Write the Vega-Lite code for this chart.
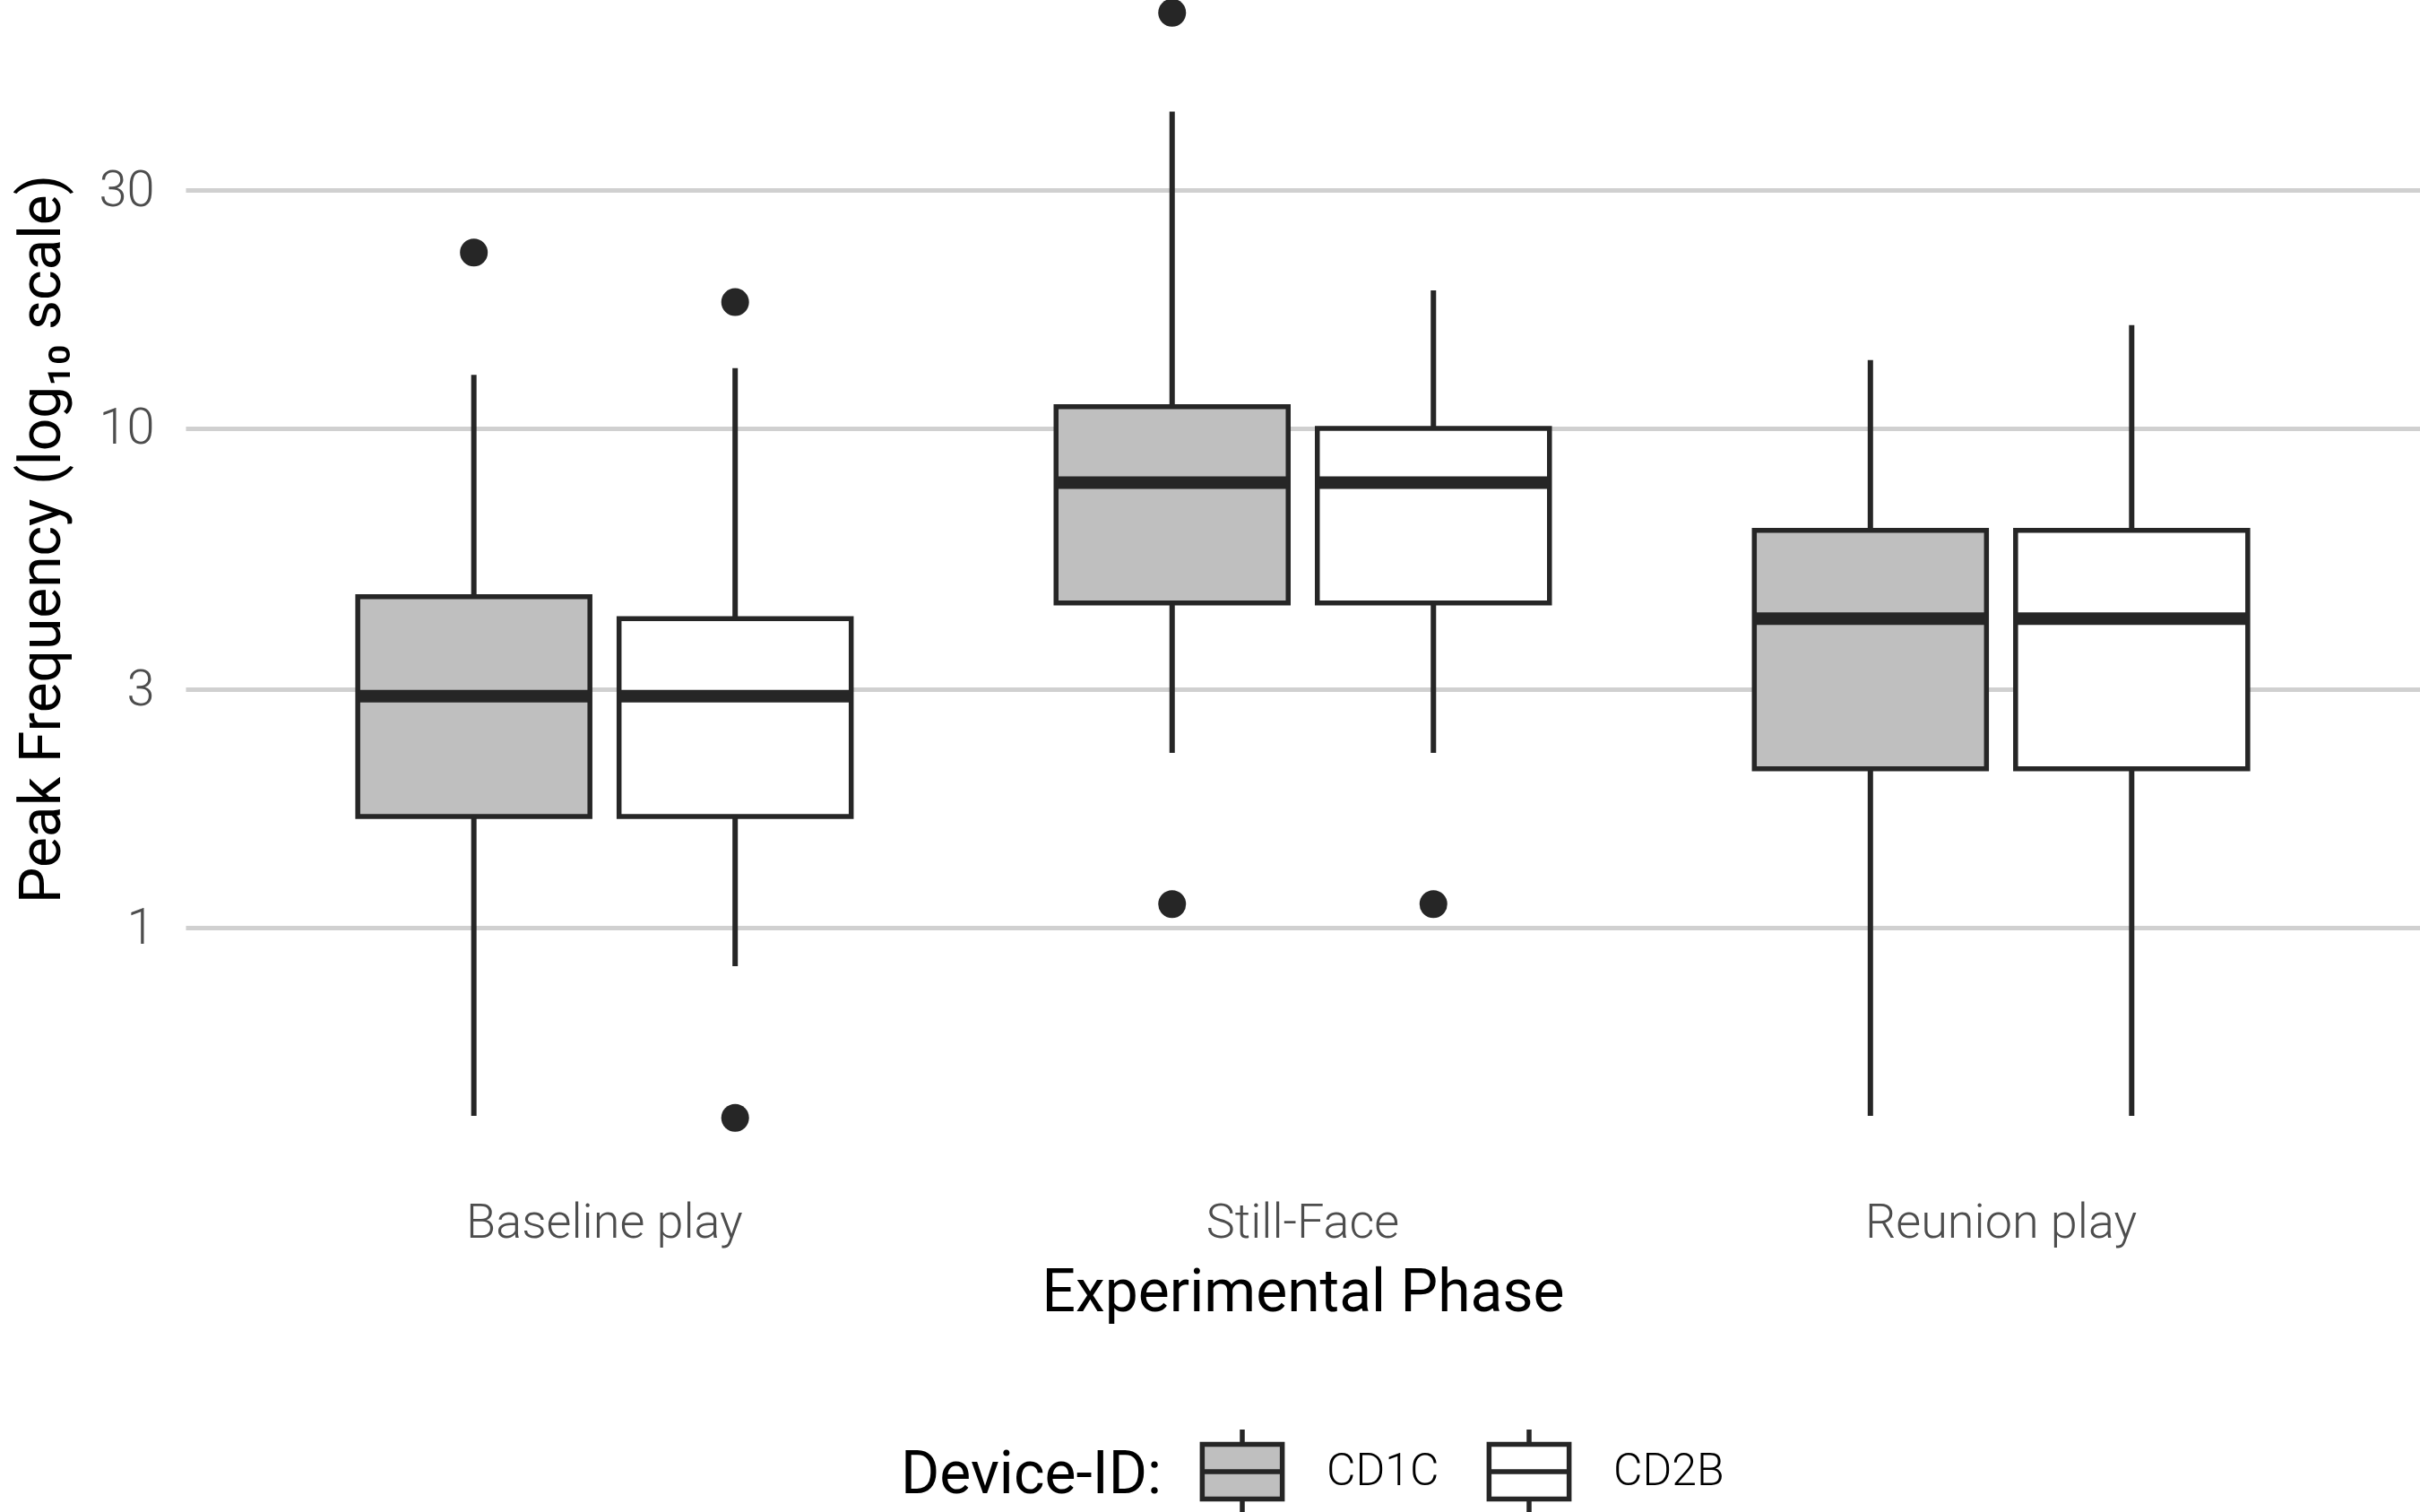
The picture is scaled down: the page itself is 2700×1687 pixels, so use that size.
{
  "$schema": "https://vega.github.io/schema/vega-lite/v6.json",
  "width": 2493,
  "height": 1307,
  "autosize": {"type": "none"},
  "padding": {"left": 207, "top": 0, "right": 0, "bottom": 380},
  "background": "white",
  "config": {"view": {"stroke": null}, "font": "Roboto"},
  "datasets": {
    "stats": [
      {"phase": "Baseline play", "device": "CD1C", "lower": 0.42, "q1": 1.67, "median": 2.91, "q3": 4.6, "upper": 12.8},
      {"phase": "Baseline play", "device": "CD2B", "lower": 0.837, "q1": 1.67, "median": 2.91, "q3": 4.16, "upper": 13.2},
      {"phase": "Still-Face", "device": "CD1C", "lower": 2.24, "q1": 4.47, "median": 7.79, "q3": 11.05, "upper": 43.1},
      {"phase": "Still-Face", "device": "CD2B", "lower": 2.24, "q1": 4.47, "median": 7.79, "q3": 10.0, "upper": 18.9},
      {"phase": "Reunion play", "device": "CD1C", "lower": 0.42, "q1": 2.08, "median": 4.16, "q3": 6.25, "upper": 13.7},
      {"phase": "Reunion play", "device": "CD2B", "lower": 0.42, "q1": 2.08, "median": 4.16, "q3": 6.25, "upper": 16.1}
    ],
    "outliers": [
      {"phase": "Baseline play", "device": "CD1C", "value": 22.5},
      {"phase": "Baseline play", "device": "CD2B", "value": 17.9},
      {"phase": "Baseline play", "device": "CD2B", "value": 0.416},
      {"phase": "Still-Face", "device": "CD1C", "value": 68},
      {"phase": "Still-Face", "device": "CD1C", "value": 1.115},
      {"phase": "Still-Face", "device": "CD2B", "value": 1.115}
    ]
  },
  "encoding": {
    "x": {
      "field": "phase", "type": "nominal",
      "scale": {"domain": ["Baseline play", "Still-Face", "Reunion play"], "paddingInner": 0, "paddingOuter": 0.1},
      "title": "Experimental Phase",
      "axis": {
        "labelAngle": 0, "labelFontSize": 54, "labelColor": "#4d4d4d", "labelFontWeight": 300, "labelLimit": 1000,
        "labelBaseline": "alphabetic", "labelPadding": 73, "ticks": false, "tickSize": 0, "domain": false, "grid": false,
        "titleFontSize": 66, "titleFontWeight": "normal", "titleColor": "#000000", "titleBaseline": "alphabetic", "titleY": 155
      }
    },
    "xOffset": {
      "field": "device", "type": "nominal",
      "scale": {"domain": ["CD1C", "CD2B"], "paddingInner": 0.1115, "paddingOuter": 0.392}
    }
  },
  "layer": [
    {
      "data": {"name": "stats"},
      "mark": {"type": "rule", "stroke": "#262626", "strokeWidth": 6},
      "encoding": {
        "y": {
          "field": "lower", "type": "quantitative",
          "scale": {"type": "log", "domain": [0.325, 72.1], "nice": false},
          "title": "Peak Frequency (log₁₀ scale)",
          "axis": {
            "values": [1, 3, 10, 30], "format": "d", "grid": true, "gridColor": "#d0d0d0", "gridWidth": 5,
            "domain": false, "ticks": false, "tickSize": 0, "labelPadding": 35, "labelFontSize": 56,
            "labelColor": "#4d4d4d", "labelFontWeight": 300,
            "titleFontSize": 64, "titleFontWeight": "normal", "titleColor": "#000000", "titleLimit": 2000,
            "titleBaseline": "alphabetic", "titleX": -141, "titleY": 601
          }
        },
        "y2": {"field": "upper"}
      }
    },
    {
      "data": {"name": "stats"},
      "mark": {"type": "bar", "stroke": "#262626", "strokeWidth": 5.5},
      "encoding": {
        "y": {"field": "q1", "type": "quantitative"},
        "y2": {"field": "q3"},
        "fill": {
          "field": "device", "type": "nominal",
          "scale": {"domain": ["CD1C", "CD2B"], "range": ["#bfbfbf", "#ffffff"]},
          "legend": {
            "orient": "none", "legendX": 798, "legendY": 1592, "direction": "horizontal",
            "title": "Device-ID:", "titleOrient": "left", "titleFontSize": 66, "titleFontWeight": "normal",
            "titleColor": "#000000", "titlePadding": 40, "titleBaseline": "middle", "titleLimit": 1000,
            "labelFontSize": 50, "labelColor": "#000000", "labelFontWeight": 300, "labelOffset": 44, "columnPadding": 44, "labelLimit": 1000,
            "symbolType": "M-0.95,-0.65H0.95V0.65H-0.95Z M-0.95,0H0.95 M0,-0.65V-1 M0,0.65V1",
            "symbolSize": 8836, "symbolStrokeColor": "#262626", "symbolStrokeWidth": 5.5, "symbolOpacity": 1
          }
        }
      }
    },
    {
      "data": {"name": "stats"},
      "mark": {"type": "tick", "color": "#262626", "thickness": 14, "size": 259, "orient": "horizontal", "opacity": 1},
      "encoding": {
        "y": {"field": "median", "type": "quantitative"}
      }
    },
    {
      "data": {"name": "outliers"},
      "mark": {"type": "point", "filled": true, "color": "#262626", "size": 961, "opacity": 1},
      "encoding": {
        "y": {"field": "value", "type": "quantitative"}
      }
    }
  ]
}
